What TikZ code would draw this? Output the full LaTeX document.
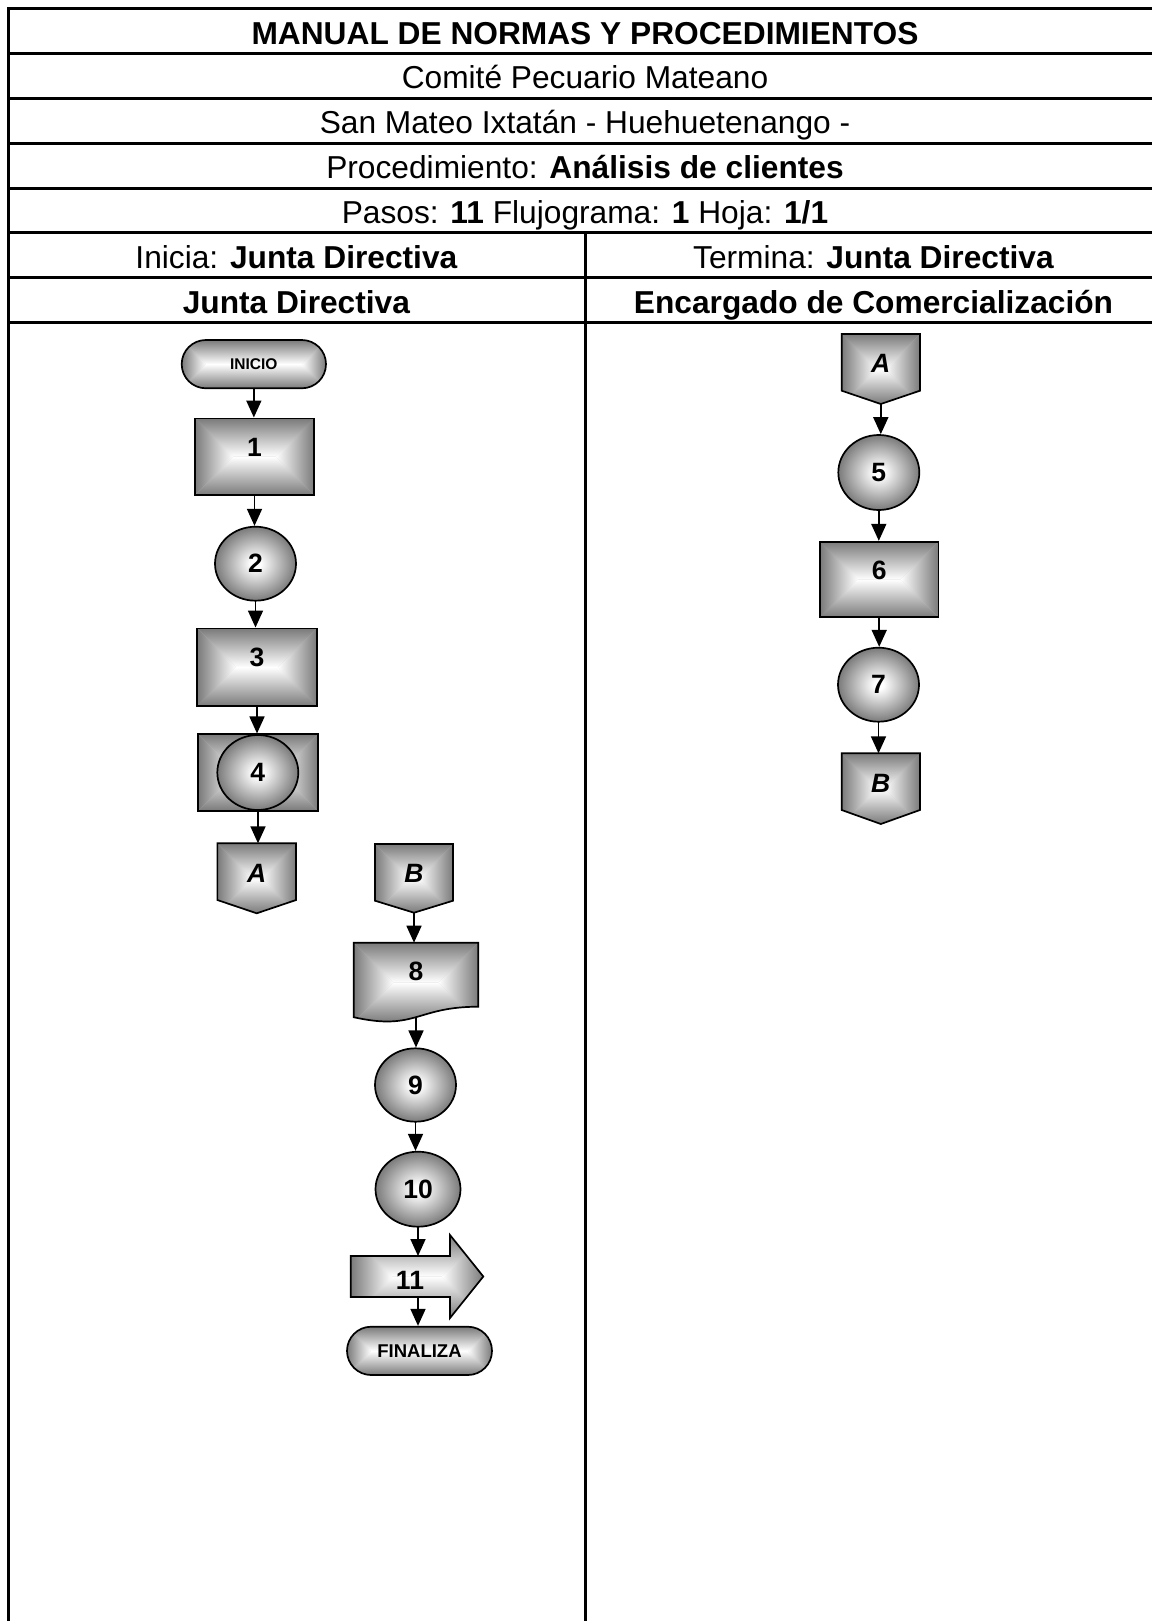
\documentclass[tikz,border=0pt]{standalone}
\usepackage{fontspec}
\setmainfont{Liberation Sans}
\usetikzlibrary{arrows.meta,shapes.misc,shapes.geometric,backgrounds}
\definecolor{shg}{rgb}{0.48,0.48,0.48}
\pgfdeclareradialshading{ballsh}{\pgfpoint{0bp}{0bp}}{color(0bp)=(white); color(3bp)=(white); color(25bp)=(shg); color(50bp)=(shg)}

% hip-roof ("from centre") gradient on a box: centre x, centre y, width, height (width >= height)
\newcommand\hiproof[4]{%
  \fill[shg!45!white] ({#1-#3/2},{#2-#4/2}) rectangle ({#1+#3/2},{#2+#4/2});
  \shade[left color=shg,right color=white] ({#1-#3/2},{#2-#4/2}) -- ({#1-#3/2+#4/2},{#2}) -- ({#1-#3/2},{#2+#4/2}) -- cycle;
  \shade[left color=white,right color=shg] ({#1+#3/2},{#2-#4/2}) -- ({#1+#3/2-#4/2},{#2}) -- ({#1+#3/2},{#2+#4/2}) -- cycle;
  \shade[top color=shg,bottom color=white] ({#1-#3/2},{#2-#4/2}) -- ({#1+#3/2},{#2-#4/2}) -- ({#1+#3/2-#4/2},{#2}) -- ({#1-#3/2+#4/2},{#2}) -- cycle;
  \shade[top color=white,bottom color=shg] ({#1-#3/2},{#2+#4/2}) -- ({#1+#3/2},{#2+#4/2}) -- ({#1+#3/2-#4/2},{#2}) -- ({#1-#3/2+#4/2},{#2}) -- cycle;
}

% off-page connector: name, centre x, top y, width, side length, total height, label
\newcommand\offconn[7]{%
  \begin{scope}
    \clip ({#2-#4/2},{#3}) -- ({#2+#4/2},{#3}) -- ({#2+#4/2},{#3+#5}) -- ({#2},{#3+#6}) -- ({#2-#4/2},{#3+#5}) -- cycle;
    \hiproof{#2}{#3+#6/2}{#4}{#6}
  \end{scope}
  \draw[outl] ({#2-#4/2},{#3}) -- ({#2+#4/2},{#3}) -- ({#2+#4/2},{#3+#5}) -- ({#2},{#3+#6}) -- ({#2-#4/2},{#3+#5}) -- cycle;
  \node[lbl, minimum width=#4, minimum height=#6, text height=19pt, text depth=11.6pt] (#1) at ({#2},{#3+#6/2}) {\itshape #7};
}

\tikzset{
  tbl/.style={line width=3pt, draw=black},
  hdr/.style={font=\fontsize{31.7}{36}\selectfont, inner sep=0, anchor=base},
  outl/.style={draw=black, line width=1.7pt, line join=miter},
  lbl/.style={font=\fontsize{26.5}{30}\selectfont\bfseries, inner sep=0, outer sep=0, draw=none},
  boxn/.style={rectangle, draw=black, line width=1.7pt, inner sep=0, font=\fontsize{26.5}{30}\selectfont\bfseries, text height=19pt, text depth=20pt},
  circ/.style={ellipse, draw=black, line width=1.7pt, inner sep=0, shade, shading=ballsh, font=\fontsize{26.5}{30}\selectfont\bfseries},
  term/.style={rounded rectangle, draw=black, line width=1.7pt, inner sep=0},
  arr/.style={line width=1.7pt, draw=black, -{Triangle[length=17pt,width=15pt]}}
}

\begin{document}
\begin{tikzpicture}[x=1pt, y=-1pt]
\useasboundingbox (0,0) rectangle (1151,1621);

% ---------- table ----------
\draw[tbl] (8,1660) -- (8,9) -- (1163,9) -- (1163,1660);
\foreach \yy in {53.8,98.6,143.4,188.2,233,277.8,322.6}
  \draw[tbl] (8,\yy) -- (1163,\yy);
\draw[tbl] (585,233) -- (585,1660);

\node[hdr] (h1) at (585,44.2) {\textbf{MANUAL DE NORMAS Y PROCEDIMIENTOS}};
\node[hdr] (h2) at (585,89) {Comité Pecuario Mateano};
\node[hdr] (h3) at (585,133.8) {San Mateo Ixtatán - Huehuetenango -};
\node[hdr] (h4) at (585,178.6) {Procedimiento: \textbf{Análisis de clientes}};
\node[hdr] (h5) at (585,223.4) {Pasos: \textbf{11} Flujograma: \textbf{1} Hoja: \textbf{1/1}};
\node[hdr] (h6) at (296.5,268.2) {Inicia: \textbf{Junta Directiva}};
\node[hdr] (h7) at (873.5,268.2) {Termina: \textbf{Junta Directiva}};
\node[hdr] (h8) at (296.5,313) {\textbf{Junta Directiva}};
\node[hdr] (h9) at (873.5,313) {\textbf{Encargado de Comercialización}};

% ---------- left column ----------
\begin{scope}
  \clip[rounded corners=24.15] (181.7,340) rectangle (326,388.3);
  \hiproof{253.85}{364.15}{144.3}{48.3}
\end{scope}
\node[term, minimum width=144.3, minimum height=48.3, font=\fontsize{15.5}{18}\selectfont\bfseries] (ini) at (253.85,364.15) {INICIO};

\hiproof{254.5}{456.7}{119}{76.7}
\node[boxn, minimum width=119, minimum height=76.7] (n1) at (254.5,456.7) {1};

\node[circ, minimum width=81, minimum height=74] (n2) at (255.5,563.7) {2};

\hiproof{257}{667.2}{119.4}{77.7}
\node[boxn, minimum width=119.4, minimum height=77.7] (n3) at (257,667.2) {3};

\hiproof{258}{772.5}{119.4}{76.4}
\node[boxn, minimum width=119.4, minimum height=76.4] (n4) at (258,772.5) {};
\node[circ, minimum width=81, minimum height=75] (e4) at (257.8,772.5) {4};

\offconn{A1}{256.7}{843.3}{78.7}{56.7}{70}{A}

% ---------- middle column ----------
\offconn{B1}{414}{844}{78}{56.7}{68.7}{B}

\begin{scope}
  \clip (353.7,942.7) -- (478.3,942.7) -- (478.3,1006.7) .. controls (416,1006.7) and (416,1031.1) .. (353.7,1017.2) -- cycle;
  \hiproof{416}{982.6}{124.6}{79.8}
\end{scope}
\draw[outl] (353.7,942.7) -- (478.3,942.7) -- (478.3,1006.7) .. controls (416,1006.7) and (416,1031.1) .. (353.7,1017.2) -- cycle;
\node[lbl, minimum width=124.6, minimum height=79.8, text height=19pt, text depth=24pt] (n8) at (416,982.6) {8};

\node[circ, minimum width=81, minimum height=73.4] (n9) at (415.5,1085) {9};
\node[circ, minimum width=85, minimum height=75] (n10) at (418,1189.2) {10};

\begin{scope}
  \clip (350.7,1256) -- (450,1256) -- (450,1235) -- (483.3,1276.5) -- (450,1318) -- (450,1297) -- (350.7,1297) -- cycle;
  \hiproof{417}{1276.5}{132.6}{83}
\end{scope}
\draw[outl] (350.7,1256) -- (450,1256) -- (450,1235) -- (483.3,1276.5) -- (450,1318) -- (450,1297) -- (350.7,1297) -- cycle;
\node[lbl, minimum width=99.3, minimum height=41] (n11) at (400.35,1276.5) {};
\node[lbl] (t11) at (410,1280) {11};

\begin{scope}
  \clip[rounded corners=24.15] (347,1326.7) rectangle (492,1375);
  \hiproof{419.5}{1350.85}{145}{48.3}
\end{scope}
\node[term, minimum width=145, minimum height=48.3, font=\fontsize{18.5}{22}\selectfont\bfseries] (fin) at (419.5,1350.85) {FINALIZA};

% ---------- right column ----------
\offconn{A2}{880.8}{334}{78.3}{56.7}{70}{A}
\node[circ, minimum width=81, minimum height=75] (n5) at (878.8,472.5) {5};
\hiproof{879.2}{579.5}{118.3}{75.6}
\node[boxn, minimum width=118.3, minimum height=75.6] (n6) at (879.2,579.5) {6};
\node[circ, minimum width=81, minimum height=74] (n7) at (878.5,684.7) {7};
\offconn{B2}{880.8}{753.3}{78.3}{56.7}{70.7}{B}

% ---------- connectors ----------
\begin{scope}[on background layer]
  \draw[arr] (ini.center) -- (ini.center |- n1.north);
  \draw[arr] (n1.center) -- (n1.center |- n2.north);
  \draw[arr] (n2.center) -- (n2.center |- n3.north);
  \draw[arr] (n3.center) -- (n3.center |- n4.north);
  \draw[arr] (n4.center) -- (n4.center |- A1.north);
  \draw[arr] (B1.center) -- (B1.center |- n8.north);
  \draw[arr] (n8.center) -- (n8.center |- n9.north);
  \draw[arr] (n9.center) -- (n9.center |- n10.north);
  \draw[arr] (n10.center) -- (n10.center |- n11.north);
  \draw[arr] (n10.center |- n11.center) -- (n10.center |- fin.north);
  \draw[arr] (A2.center) -- (A2.center |- n5.north);
  \draw[arr] (n5.center) -- (n5.center |- n6.north);
  \draw[arr] (n6.center) -- (n6.center |- n7.north);
  \draw[arr] (n7.center) -- (n7.center |- B2.north);
\end{scope}
\end{tikzpicture}
\end{document}
